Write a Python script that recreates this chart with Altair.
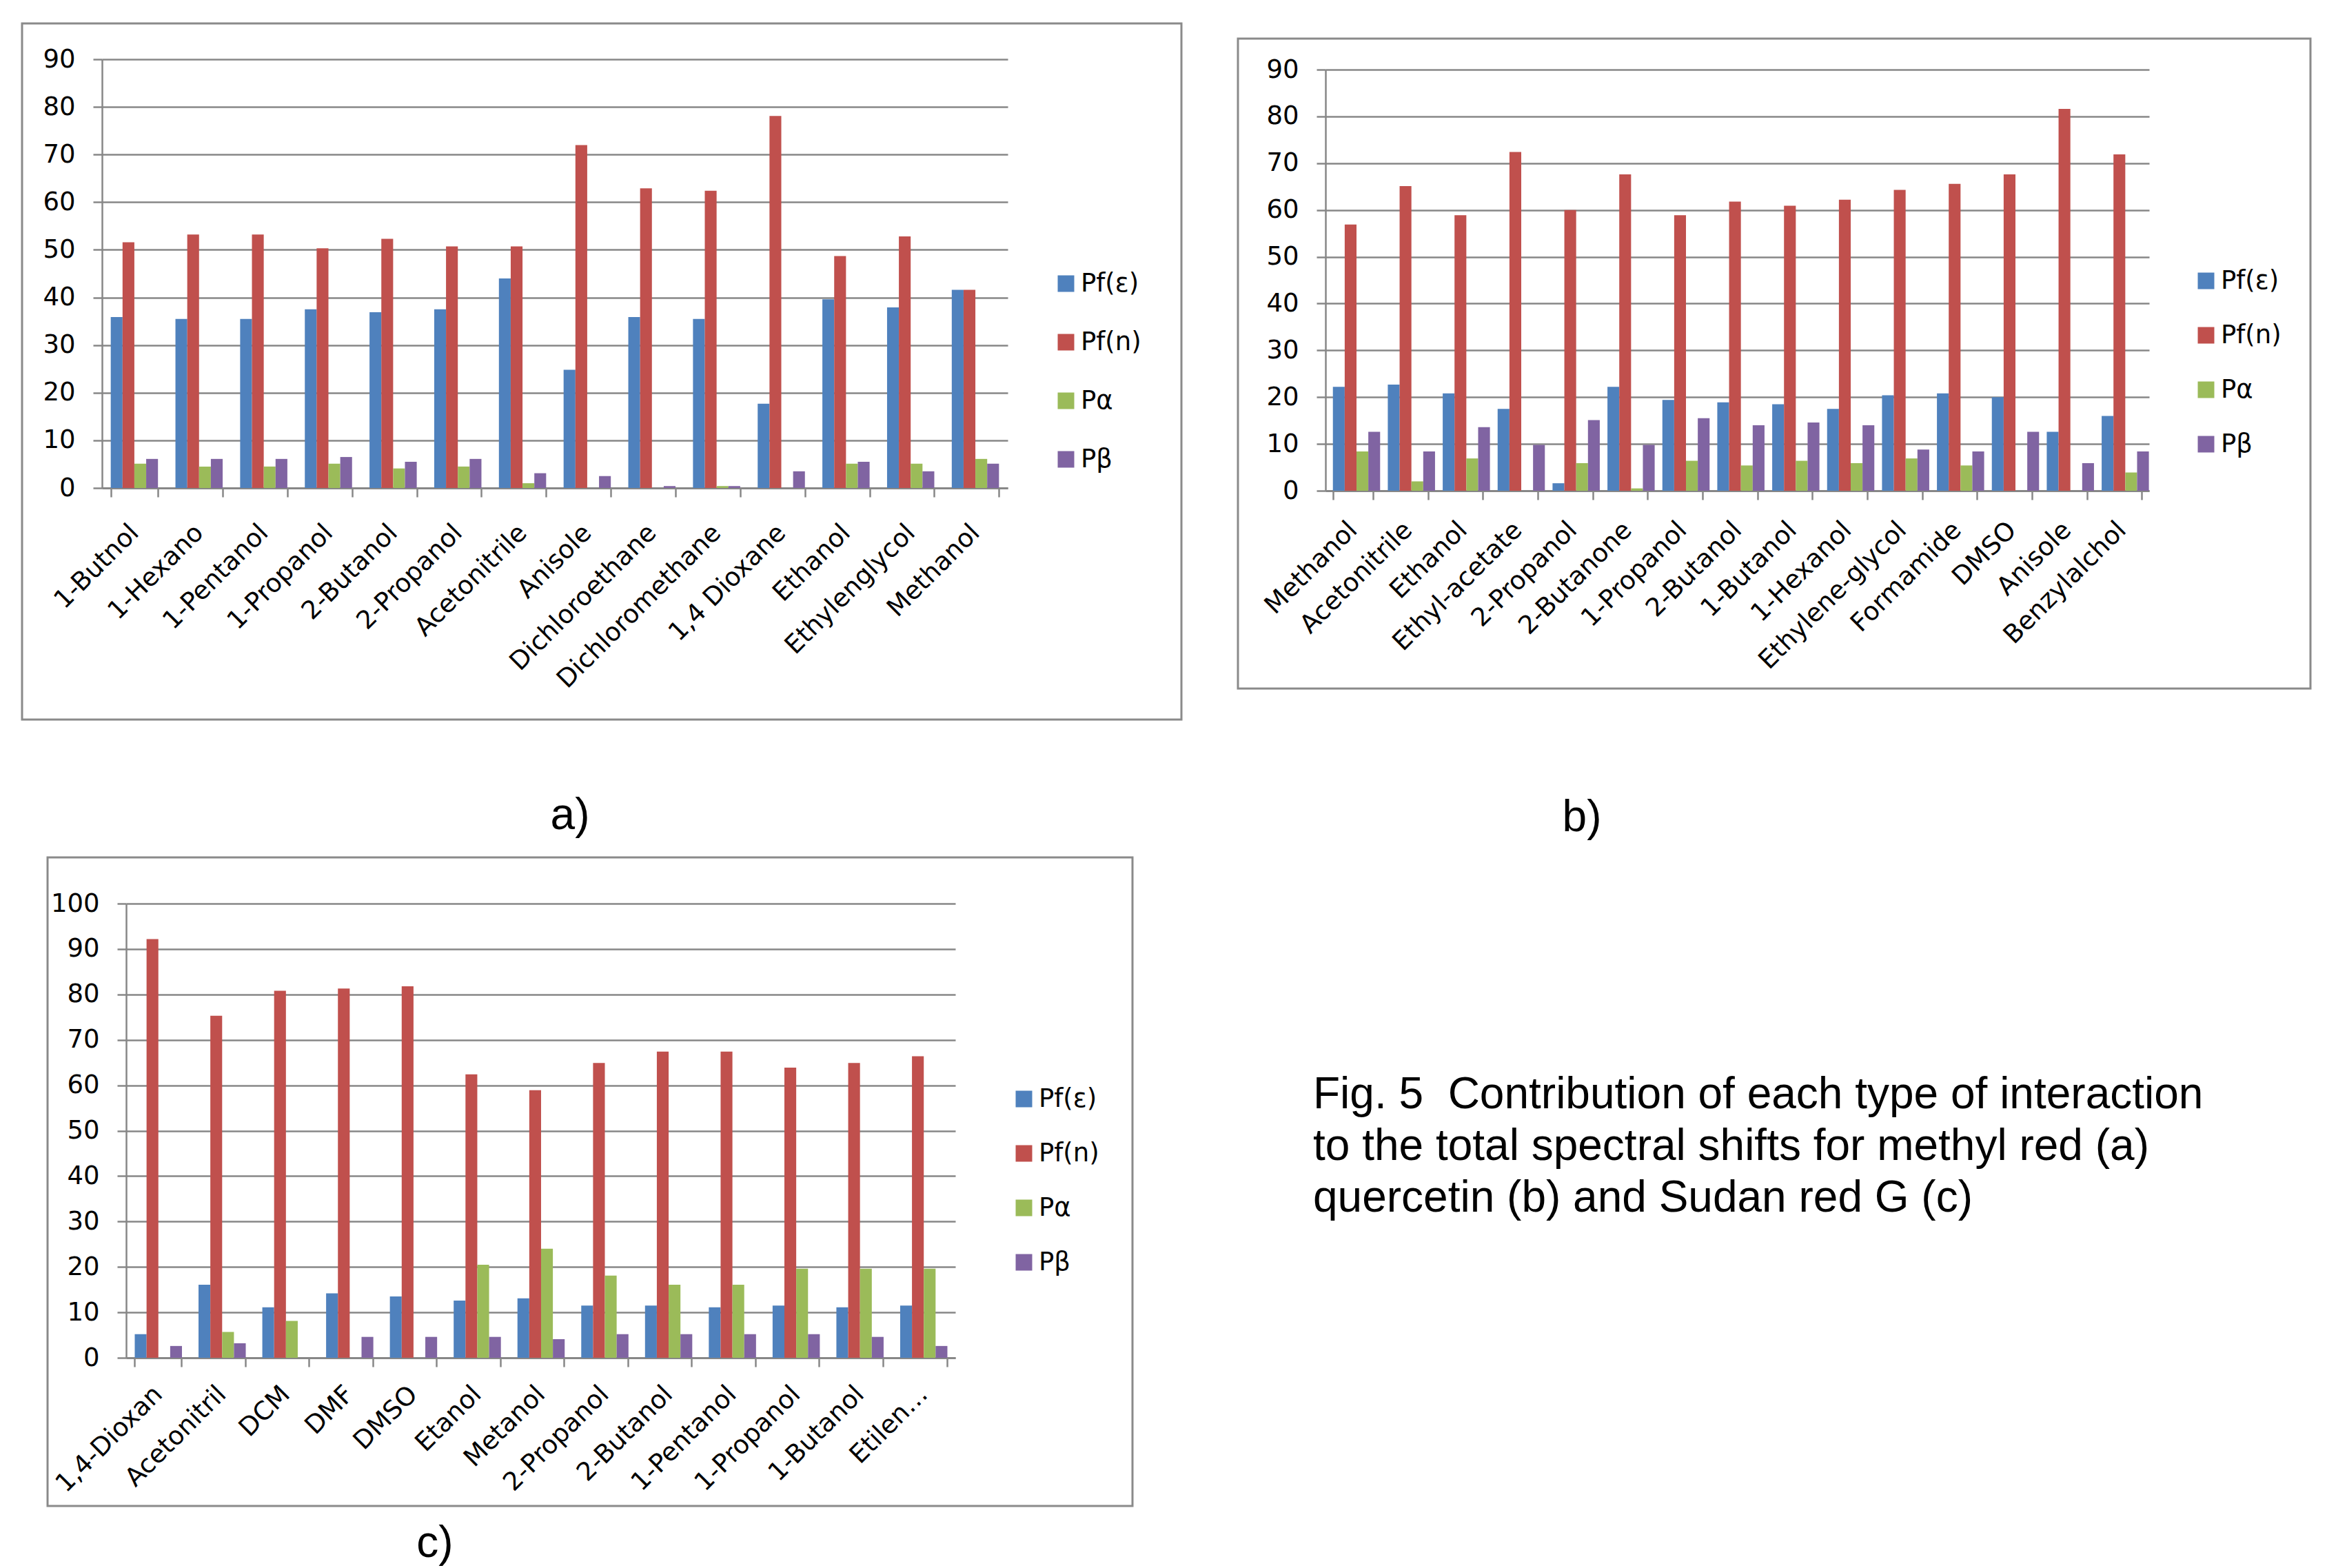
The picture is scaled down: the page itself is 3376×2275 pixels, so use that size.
import altair as alt
import pandas as pd

series = ["Pf(ε)", "Pf(n)", "Pα", "Pβ"]
colors = ["#4F81BD", "#C0504D", "#9BBB59", "#8064A2"]

# (a) methyl red
a_cats = ["1-Butnol", "1-Hexano", "1-Pentanol", "1-Propanol", "2-Butanol", "2-Propanol",
          "Acetonitrile", "Anisole", "Dichloroethane", "Dichloromethane", "1,4 Dioxane",
          "Ethanol", "Ethylenglycol", "Methanol"]
a_pfe = [35.9, 35.5, 35.5, 37.5, 36.9, 37.5, 44.0, 24.8, 35.9, 35.5, 17.7, 39.6, 37.9, 41.6]
a_pfn = [51.6, 53.2, 53.2, 50.3, 52.3, 50.7, 50.7, 72.0, 62.9, 62.4, 78.1, 48.7, 52.8, 41.6]
a_pa = [5.1, 4.5, 4.5, 5.1, 4.1, 4.5, 1.0, 0.0, 0.0, 0.4, 0.0, 5.1, 5.1, 6.1]
a_pb = [6.1, 6.1, 6.1, 6.5, 5.5, 6.1, 3.1, 2.5, 0.4, 0.4, 3.5, 5.5, 3.5, 5.1]

# (b) quercetin
b_cats = ["Methanol", "Acetonitrile", "Ethanol", "Ethyl-acetate", "2-Propanol", "2-Butanone",
          "1-Propanol", "2-Butanol", "1-Butanol", "1-Hexanol", "Ethylene-glycol", "Formamide",
          "DMSO", "Anisole", "Benzylalchol"]
b_pfe = [22.2, 22.7, 20.8, 17.5, 1.6, 22.2, 19.4, 18.9, 18.5, 17.5, 20.4, 20.8, 20.0, 12.6, 16.0]
b_pfn = [56.9, 65.1, 58.9, 72.4, 60.0, 67.6, 58.9, 61.8, 60.9, 62.2, 64.3, 65.6, 67.6, 81.6, 71.9]
b_pa = [8.4, 2.0, 6.9, 0.0, 5.9, 0.5, 6.4, 5.4, 6.4, 5.9, 6.9, 5.4, 0.0, 0.0, 3.9]
b_pb = [12.6, 8.4, 13.6, 9.8, 15.1, 9.8, 15.5, 14.0, 14.6, 14.0, 8.8, 8.4, 12.6, 5.9, 8.4]

# (c) Sudan red G
c_cats = ["1,4-Dioxan", "Acetonitril", "DCM", "DMF", "DMSO", "Etanol", "Metanol",
          "2-Propanol", "2-Butanol", "1-Pentanol", "1-Propanol", "1-Butanol", "Etilen…"]
c_pfe = [5.2, 16.1, 11.1, 14.2, 13.5, 12.6, 13.1, 11.5, 11.5, 11.1, 11.5, 11.1, 11.5]
c_pfn = [92.2, 75.3, 80.8, 81.3, 81.8, 62.4, 58.9, 64.9, 67.4, 67.4, 63.9, 64.9, 66.4]
c_pa = [0.0, 5.7, 8.1, 0.0, 0.0, 20.5, 24.0, 18.1, 16.1, 16.1, 19.6, 19.6, 19.6]
c_pb = [2.6, 3.2, 0.0, 4.6, 4.6, 4.6, 4.1, 5.2, 5.2, 5.2, 5.2, 4.6, 2.6]

caption_lines = ["Fig. 5\u00a0 Contribution of each type of interaction",
                 "to the total spectral shifts for methyl red (a)",
                 "quercetin (b) and Sudan red G (c)"]

FONT = "DejaVu Sans"
CAP_FONT = "Liberation Sans"
GRID = "#878787"
FRAME = "#8a8a8a"
LBL = 37


def long_df(cats, *vals):
    rows = []
    for i, c in enumerate(cats):
        for s, v in zip(series, vals):
            rows.append({"solvent": c, "series": s, "value": v[i]})
    return pd.DataFrame(rows)


one = pd.DataFrame({"k": [0]})


def text_layer(txt, x, y, size=64, align="center"):
    return alt.Chart(one).mark_text(font=CAP_FONT, fontSize=size, align=align,
                                    baseline="middle", color="black").encode(
        x=alt.value(x), y=alt.value(y), text=alt.value(txt))


def panel(df, cats, ymax, w, h, xr, yr, frame_box, legx, legy, rowpad, xpad, yoff, extras,
          ghost_bottom):
    bars = alt.Chart(df).mark_bar().encode(
        x=alt.X("solvent:N", sort=cats,
                scale=alt.Scale(paddingInner=0.27, paddingOuter=0.135, range=xr),
                axis=alt.Axis(title=None, labelAngle=-45, labelAlign="right",
                              labelBaseline="middle", labelFont=FONT, labelFontSize=LBL,
                              labelColor="black", labelPadding=xpad, labelLimit=1000,
                              labelOverlap=False, tickBand="extent", ticks=True,
                              tickSize=13, tickColor=GRID, tickWidth=2.5,
                              domainColor=GRID, domainWidth=3, grid=False)),
        xOffset=alt.XOffset("series:N", sort=series),
        y=alt.Y("value:Q", scale=alt.Scale(domain=[0, ymax], nice=False, range=yr),
                axis=alt.Axis(title=None, values=list(range(0, ymax + 1, 10)), grid=True,
                              gridColor=GRID, gridWidth=2.5, gridOpacity=1, offset=yoff,
                              domainColor=GRID, domainWidth=2.5, tickSize=13,
                              tickColor=GRID, tickWidth=2.5, labelFont=FONT,
                              labelFontSize=LBL, labelColor="black", labelPadding=26)),
        color=alt.Color("series:N", sort=series,
                        scale=alt.Scale(domain=series, range=colors),
                        legend=alt.Legend(title=None, orient="none", legendX=legx,
                                          legendY=legy, symbolType="square",
                                          symbolSize=576, symbolStrokeWidth=0,
                                          labelFont=FONT, labelFontSize=LBL,
                                          labelColor="black", rowPadding=rowpad,
                                          labelOffset=3)),
    )
    x0, x1, y0, y1 = frame_box
    frame = alt.Chart(one).mark_rect(filled=False, stroke=FRAME, strokeWidth=3).encode(
        x=alt.value(x0), x2=alt.value(x1), y=alt.value(y0), y2=alt.value(y1))
    ghost = alt.Chart(one).mark_rect(opacity=0).encode(
        x=alt.value(x0), x2=alt.value(x1), y=alt.value(y0), y2=alt.value(ghost_bottom))
    return alt.layer(ghost, frame, bars, *extras).properties(width=w, height=h)


# panel a: view origin = plot origin (page 146, 84)
pa = panel(long_df(a_cats, a_pfe, a_pfn, a_pa, a_pb), a_cats, 90,
           1314, 622, [0, 1314], [622, 0], (-116, 1566, -52, 958),
           1380, 307, 47, 46, 0,
           [text_layer("a)", 679, 1098)], 1146)

# panel b: view origin page (1917, 84); plot top at 15
pb = panel(long_df(b_cats, b_pfe, b_pfn, b_pa, b_pb), b_cats, 90,
           1195, 626, [0, 1195], [626, 15], (-127, 1429, -30, 913),
           1259, 303, 41, 38, 0,
           [text_layer("b)", 372, 1101)], 1146)

# panel c: view origin page (146, 1307); plot left at 35
pc = panel(long_df(c_cats, c_pfe, c_pfn, c_pa, c_pb), c_cats, 100,
           1238, 659, [35, 1238], [659, 0], (-79, 1495, -67, 874),
           1319, 265, 41, 34, -35,
           [text_layer("c)", 483, 929),
            text_layer(caption_lines[0], 1757, 278, align="left"),
            text_layer(caption_lines[1], 1757, 353, align="left"),
            text_layer(caption_lines[2], 1757, 428, align="left")], 874)

row1 = alt.concat(pa, pb, columns=2, spacing=78).resolve_scale(color="independent")
chart = alt.concat(row1, pc, columns=1, spacing=10).properties(
    padding={"left": 22, "top": 24, "right": 4, "bottom": 0}
).resolve_scale(color="independent").configure_view(strokeWidth=0)

chart.save("out.html", embed_options={"renderer": "svg", "actions": False})
